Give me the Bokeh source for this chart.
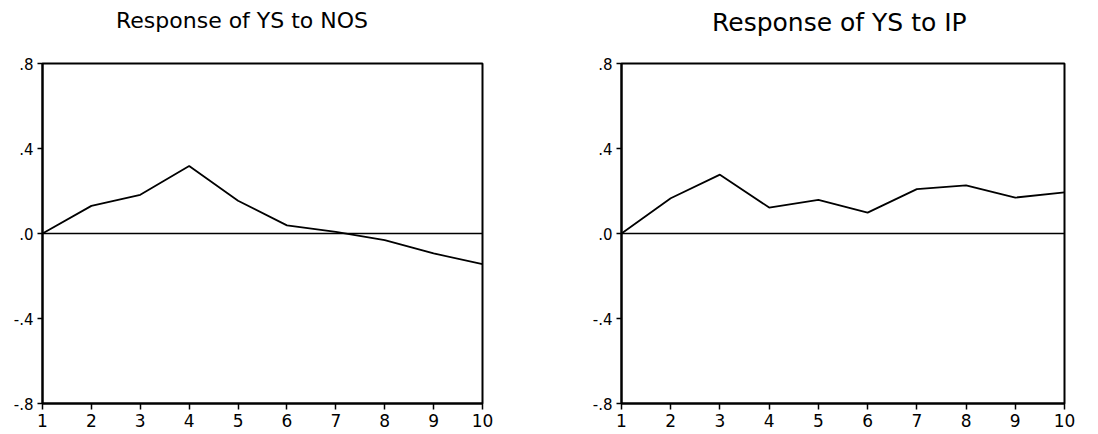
from bokeh.plotting import figure
from bokeh.layouts import row, column
from bokeh.models import Range1d, FixedTicker, Span, Div
from bokeh.embed import file_html
from bokeh.resources import INLINE

periods = [1, 2, 3, 4, 5, 6, 7, 8, 9, 10]
resp_nos = [0.0, 0.13, 0.182, 0.318, 0.154, 0.038, 0.008, -0.031, -0.094, -0.144]
resp_ip = [0.0, 0.166, 0.277, 0.122, 0.158, 0.098, 0.209, 0.226, 0.169, 0.194]
y_ticks = [-0.8, -0.4, 0.0, 0.4, 0.8]
y_tick_labels = ["-.8", "-.4", ".0", ".4", ".8"]
x_ticks = periods
titles = ["Response of YS to NOS", "Response of YS to IP"]

FONT = "DejaVu Sans"


def make(ys, border_left, border_right, width):
    p = figure(width=width, height=392, output_backend="svg", toolbar_location=None,
               x_range=Range1d(1, 10), y_range=Range1d(-0.8, 0.8),
               min_border_left=border_left, min_border_right=border_right,
               min_border_top=23, min_border_bottom=29)
    p.grid.visible = False
    p.outline_line_color = "black"
    p.outline_line_width = 2
    p.outline_line_alpha = 1
    for ax in (p.xaxis[0], p.yaxis[0]):
        ax.axis_line_color = "black"
        ax.axis_line_width = 2
        ax.major_tick_line_color = "black"
        ax.major_tick_line_width = 1.5
        ax.minor_tick_line_color = None
        ax.major_tick_in = 0
        ax.major_label_text_font = FONT
        ax.major_label_text_color = "black"
    p.xaxis.ticker = FixedTicker(ticks=x_ticks)
    p.xaxis.major_tick_out = 6
    p.xaxis.major_label_text_font_size = "17px"
    p.xaxis.major_label_standoff = 4
    p.yaxis.ticker = FixedTicker(ticks=y_ticks)
    p.yaxis.major_label_overrides = {t: l for t, l in zip(y_ticks, y_tick_labels)}
    p.yaxis.major_tick_out = 5
    p.yaxis.major_label_text_font_size = "15px"
    p.yaxis.major_label_standoff = 4
    p.add_layout(Span(location=0, dimension="width", line_color="black", line_width=1.5))
    p.line(periods, ys, line_color="black", line_width=1.8)
    return p


def title_div(text, width, left, size):
    html = ('<div style="margin-left:%dpx; margin-top:10px; font-family:\'DejaVu Sans\'; '
            'font-size:%s; line-height:1; color:black; white-space:nowrap;">%s</div>'
            % (left, size, text))
    return Div(text=html, width=width, height=40, margin=0)


t1 = title_div(titles[0], 545, 116, "22px")
t2 = title_div(titles[1], 537, 167, "25px")
p1 = make(resp_nos, 42, 63, 545)
p2 = make(resp_ip, 76, 18, 537)
layout = column(row(t1, t2), row(p1, p2))
open("out.html", "w").write(file_html(layout, INLINE))
